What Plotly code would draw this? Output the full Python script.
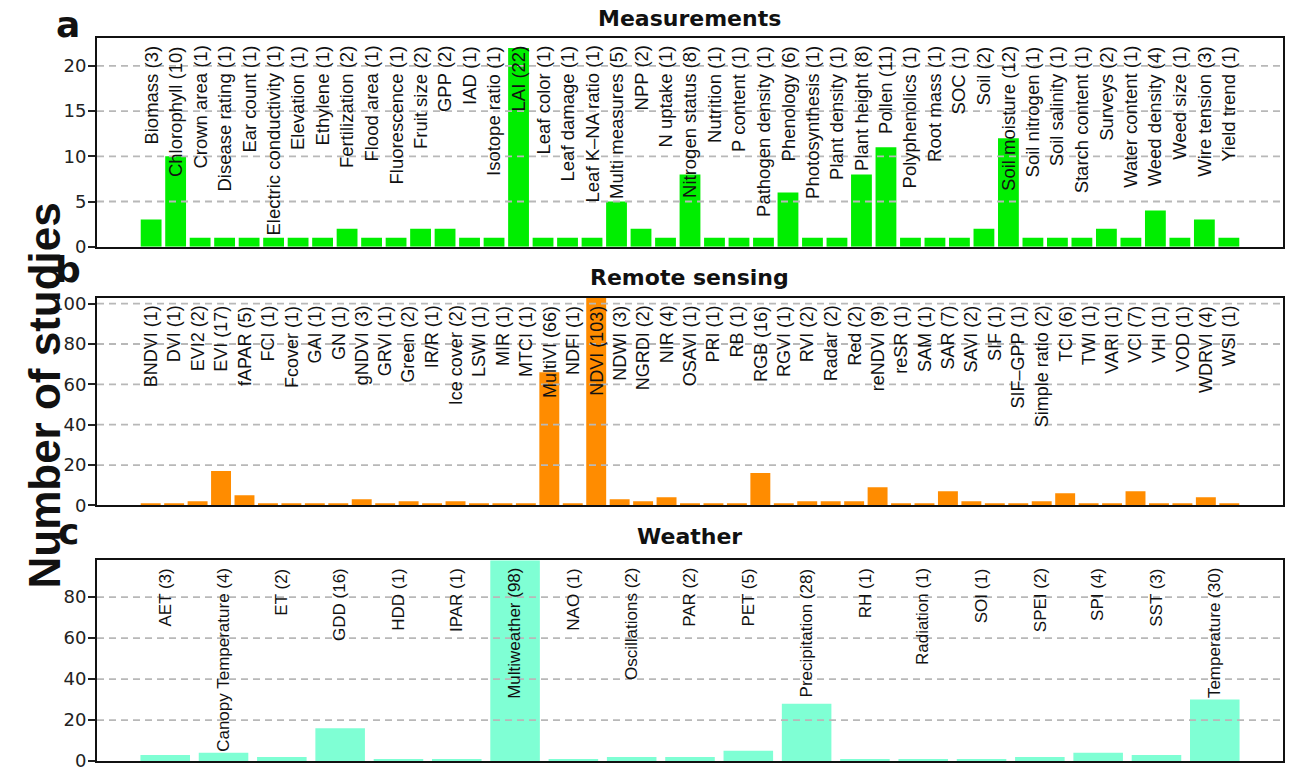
import plotly.graph_objects as go

# ---------------- data ----------------
meas_names = ["Biomass", "Chlorophyll", "Crown area", "Disease rating", "Ear count",
              "Electric conductivity", "Elevation", "Ethylene", "Fertilization", "Flood area",
              "Fluorescence", "Fruit size", "GPP", "IAD", "Isotope ratio", "LAI", "Leaf color",
              "Leaf damage", "Leaf K–NA ratio", "Multi measures", "NPP", "N uptake",
              "Nitrogen status", "Nutrition", "P content", "Pathogen density", "Phenology",
              "Photosynthesis", "Plant density", "Plant height", "Pollen", "Polyphenolics",
              "Root mass", "SOC", "Soil", "Soil moisture", "Soil nitrogen", "Soil salinity",
              "Starch content", "Surveys", "Water content", "Weed density", "Weed size",
              "Wire tension", "Yield trend"]
meas_values = [3, 10, 1, 1, 1, 1, 1, 1, 2, 1, 1, 2, 2, 1, 1, 22, 1, 1, 1, 5, 2, 1, 8, 1, 1,
               1, 6, 1, 1, 8, 11, 1, 1, 1, 2, 12, 1, 1, 1, 2, 1, 4, 1, 3, 1]

rs_names = ["BNDVI", "DVI", "EVI2", "EVI", "fAPAR", "FCI", "Fcover", "GAI", "GN", "gNDVI",
            "GRVI", "Green", "IR/R", "Ice cover", "LSWI", "MIR", "MTCI", "MultiVI", "NDFI",
            "NDVI", "NDWI", "NGRDI", "NIR", "OSAVI", "PRI", "RB", "RGB", "RGVI", "RVI",
            "Radar", "Red", "reNDVI", "reSR", "SAM", "SAR", "SAVI", "SIF", "SIF–GPP",
            "Simple ratio", "TCI", "TWI", "VARI", "VCI", "VHI", "VOD", "WDRVI", "WSI"]
rs_values = [1, 1, 2, 17, 5, 1, 1, 1, 1, 3, 1, 2, 1, 2, 1, 1, 1, 66, 1, 103, 3, 2, 4, 1, 1,
             1, 16, 1, 2, 2, 2, 9, 1, 1, 7, 2, 1, 1, 2, 6, 1, 1, 7, 1, 1, 4, 1]

wx_names = ["AET", "Canopy Temperature", "ET", "GDD", "HDD", "IPAR", "Multiweather", "NAO",
            "Oscillations", "PAR", "PET", "Precipitation", "RH", "Radiation", "SOI", "SPEI",
            "SPI", "SST", "Temperature"]
wx_values = [3, 4, 2, 16, 1, 1, 98, 1, 2, 2, 5, 28, 1, 1, 1, 2, 4, 3, 30]

panel_titles = ["Measurements", "Remote sensing", "Weather"]
panel_letters = ["a", "b", "c"]
panel_colors = ["#00EE00", "#FF8C00", "#7FFFD4"]
y_max = [23.1, 103, 98]
y_ticks = [[0, 5, 10, 15, 20], [0, 20, 40, 60, 80, 100], [0, 20, 40, 60, 80]]
y_title = "Number of studies"

# ---------------- layout geometry ----------------
W, H = 1290, 780


def px_x(p):
    return p / W


def px_y(t):
    # target screen row -> paper coordinate (empirical vertical mapping of the viewer)
    p = (t - 4) / 0.982
    return 1 - p / H


x_left, x_right = 97, 1283
panel_px = [(37, 246), (297, 505), (560, 761)]  # (top, bottom)
title_px = [18, 277, 536]
letter_px = [24, 269, 531]
label_size = [18.5, 18, 17]

panels = [(meas_names, meas_values), (rs_names, rs_values), (wx_names, wx_values)]

fig = go.Figure()
annotations = []
shapes = []
layout_axes = {}

for k, (names, values) in enumerate(panels):
    n = len(names)
    sfx = "" if k == 0 else str(k + 1)
    xa, ya = "x" + sfx, "y" + sfx
    fig.add_trace(go.Bar(
        x=list(range(n)), y=values, xaxis=xa, yaxis=ya,
        marker=dict(color=panel_colors[k], line=dict(width=0)),
        showlegend=False, hoverinfo="skip",
    ))
    # R barplot-like x limits (width 1, space 0.2, 4% padding)
    span = 1.2 * n - 0.2
    lo = (0.2 - 0.04 * span - 0.7) / 1.2
    hi = (1.2 * n + 0.04 * span - 0.7) / 1.2
    top, bot = panel_px[k]
    layout_axes["xaxis" + sfx] = dict(
        domain=[px_x(x_left), px_x(x_right)], range=[lo, hi], anchor=ya,
        showticklabels=False, ticks="", showgrid=False, zeroline=False,
        showline=True, mirror=True, linecolor="#111", linewidth=2,
    )
    layout_axes["yaxis" + sfx] = dict(
        domain=[px_y(bot), px_y(top)], range=[0, y_max[k]], anchor=xa,
        tickvals=y_ticks[k], ticks="outside", ticklen=7, tickwidth=1.5, tickcolor="#222",
        ticklabelstandoff=-2,
        tickfont=dict(family="DejaVu Sans", size=18, color="#222"),
        showgrid=False, zeroline=False,
        showline=True, mirror=True, linecolor="#111", linewidth=2,
    )
    # dashed grid lines drawn above bars
    for t in y_ticks[k]:
        if t == 0:
            continue
        shapes.append(dict(type="line", xref=xa + " domain", yref=ya,
                           x0=0, x1=1, y0=t, y1=t, layer="above",
                           line=dict(color="#B8B8B8", width=1.8, dash="7px,5px")))
    # bar labels
    for i, (nm, v) in enumerate(zip(names, values)):
        annotations.append(dict(
            x=i, y=1, xref=xa, yref=ya + " domain", text=f"{nm} ({v})",
            textangle=-90, showarrow=False, xanchor="center", yanchor="top", yshift=-6,
            font=dict(family="Liberation Sans, Arial", size=label_size[k], color="#111"),
        ))
    # panel title
    annotations.append(dict(
        x=px_x((x_left + x_right) / 2), y=px_y(title_px[k]), xref="paper", yref="paper",
        text=f"<b>{panel_titles[k]}</b>", showarrow=False, xanchor="center", yanchor="middle",
        font=dict(family="DejaVu Sans", size=22, color="#111"),
    ))
    # panel letter
    annotations.append(dict(
        x=px_x(68), y=px_y(letter_px[k]), xref="paper", yref="paper",
        text=f"<b>{panel_letters[k]}</b>", showarrow=False, xanchor="center", yanchor="middle",
        font=dict(family="DejaVu Sans", size=36, color="#111"),
    ))

annotations.append(dict(
    x=px_x(45), y=px_y(395), xref="paper", yref="paper", text=f"<b>{y_title}</b>",
    textangle=-90, showarrow=False, xanchor="center", yanchor="middle",
    font=dict(family="Liberation Sans, Arial", size=44, color="#111"),
))

fig.update_layout(
    width=W, height=H, margin=dict(l=0, r=0, t=0, b=0),
    paper_bgcolor="white", plot_bgcolor="white",
    bargap=0.15, annotations=annotations, shapes=shapes, **layout_axes,
)

# remove the default page margin so the figure starts at the window corner
fig.write_html("out.html", config={"displayModeBar": False},
               post_script="document.body.style.margin='0px';")
